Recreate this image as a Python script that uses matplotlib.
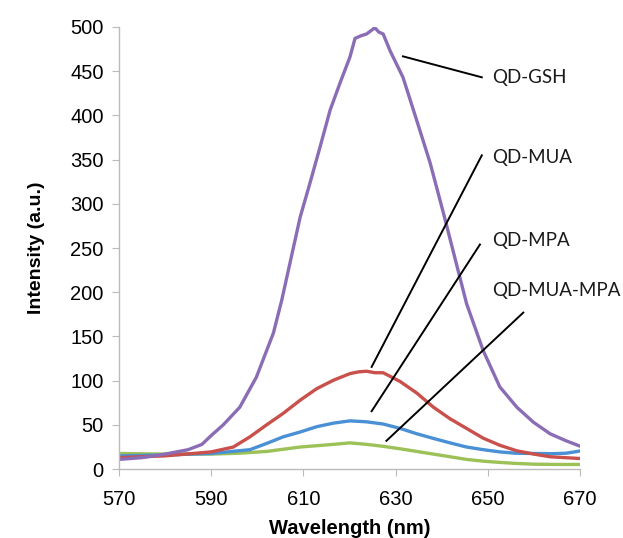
import matplotlib
matplotlib.use("Agg")
import matplotlib.pyplot as plt
import numpy as np

# Wavelength grid points (nm) and intensities
wl_gsh = [570, 575, 580, 585, 588, 590, 592.6, 596.2, 599.8, 603.5, 605.3, 609.3, 611.4, 613.6,
          615.8, 617.9, 620.1, 621.2, 622.5, 623.7, 625.5, 626.4, 627.3, 628.8, 631.6, 634.6,
          637.5, 640.4, 645.4, 649, 652.6, 656.3, 659.9, 663.5, 667, 670]
gsh = [11, 13, 17, 22, 28, 38, 50, 70, 104, 154, 191, 285, 323, 364,
       406, 436, 466, 487, 490, 492, 499, 494, 492, 473, 443, 394,
       346, 289, 187, 134, 93, 70, 53, 40, 32, 26]

wl_mua = [570, 580, 590, 594.8, 598.4, 602, 605.6, 609.3, 612.9, 616.5, 620.1, 622, 623.7,
          625.5, 627.3, 631, 634.6, 638.2, 641.8, 645.4, 649, 652.6, 656.3, 660, 663.5, 670]
mua = [13, 15, 19.5, 25, 36.5, 50, 63, 78, 91, 100.5, 108, 110, 110.7,
       109, 109, 99, 86, 70, 57, 46, 35, 27, 20.7, 17, 14, 12]

wl_mpa = [570, 580, 590, 598.4, 602, 605.6, 609.3, 612.9, 616.5, 620.1, 623.7, 627.3, 631,
          634.6, 638.2, 641.8, 645.4, 649, 652.6, 656, 660, 664, 667, 670]
mpa = [15, 16, 17.7, 22, 29, 36.5, 42, 48, 52, 54.6, 53.5, 51, 46,
       40, 34.7, 29.7, 25, 22, 19.5, 18, 17.7, 17.5, 18, 20.5]

wl_mix = [570, 580, 590, 596, 602, 609.3, 616.5, 620.1, 623.7, 627, 631, 634.6, 638.2, 641.8,
          645.4, 649, 652.6, 656, 660, 665, 670]
mix = [17.7, 17, 17, 18, 20, 25, 28, 29.7, 28, 26, 23, 20, 17, 14,
       11, 9, 7.6, 6.5, 5.6, 5.3, 5.3]

labels = ["QD-GSH", "QD-MUA", "QD-MPA", "QD-MUA-MPA"]
colors = ["#8B6DB5", "#C9504B", "#4A90D4", "#9CC157"]

# annotation leader lines: (start point on curve, end near label), label position
leader_start = [(631.6, 466.7), (624.8, 115.6), (624.8, 65.5), (628.0, 32.0)]
leader_end = [(648.7, 443.0), (648.7, 354.8), (648.3, 254.0), (657.7, 177.0)]
label_pos = [(650.9, 443.0), (650.9, 352.5), (650.9, 259.0), (650.9, 202.0)]

xticks = [570, 590, 610, 630, 650, 670]
yticks = list(range(0, 501, 50))

fig = plt.figure(figsize=(6.23, 5.38), dpi=100)
ax = fig.add_axes([0.191, 0.128, 0.740, 0.822])

series = [(wl_gsh, gsh), (wl_mua, mua), (wl_mpa, mpa), (wl_mix, mix)]
for (x, y), c in zip(series[::-1], colors[::-1]):
    ax.plot(x, y, color=c, lw=2.4, solid_joinstyle="round")

for s, e, p, lab in zip(leader_start, leader_end, label_pos, labels):
    ax.plot([s[0], e[0]], [s[1], e[1]], color="black", lw=1.4)
    ax.text(p[0], p[1], lab, ha="left", va="center", fontsize=13.5,
            family="Lato", color="#1a1a1a")

ax.set_xlim(570, 670)
ax.set_ylim(0, 500)
ax.set_xticks(xticks)
ax.set_yticks(yticks)
for side in ["top", "right"]:
    ax.spines[side].set_visible(False)
for side in ["left", "bottom"]:
    ax.spines[side].set_color("#BBBBBB")
    ax.spines[side].set_linewidth(1.0)
ax.tick_params(axis="both", colors="#BBBBBB", labelcolor="black", length=5,
               labelsize=14.5, direction="out")
for t in ax.get_xticklabels() + ax.get_yticklabels():
    t.set_family("Liberation Sans")
ax.tick_params(axis="x", pad=10)
ax.tick_params(axis="y", pad=6)

ax.set_xlabel("Wavelength (nm)", fontsize=14.5, fontweight="bold",
              family="Liberation Sans", labelpad=7)
ax.set_ylabel("Intensity (a.u.)", fontsize=14, fontweight="bold",
              family="Liberation Sans", labelpad=18)

fig.savefig("out.png", dpi=100)
